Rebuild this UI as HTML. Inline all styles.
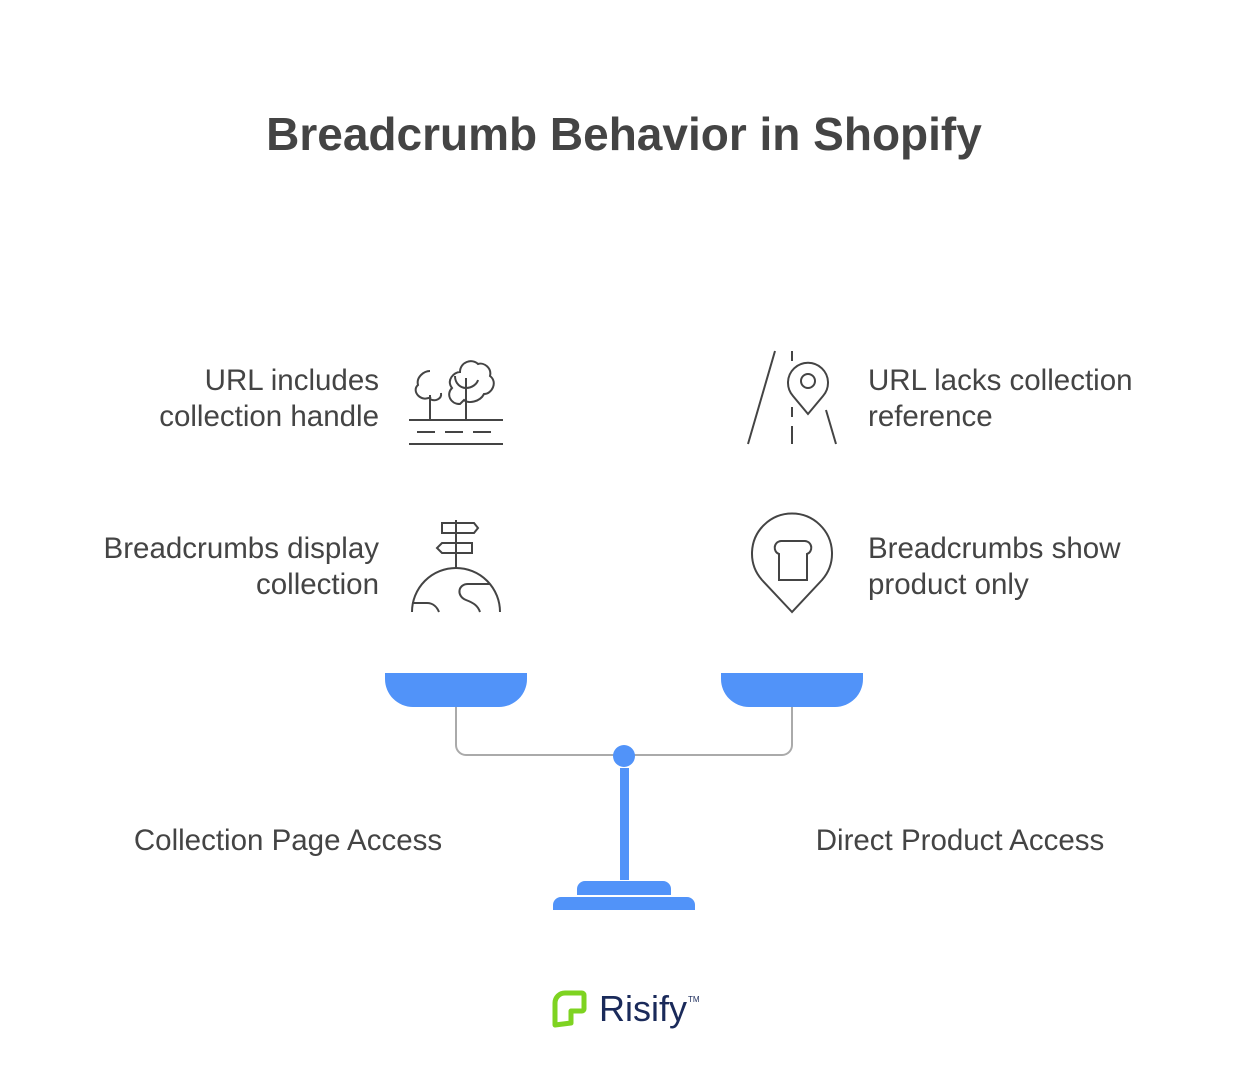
<!DOCTYPE html>
<html><head><meta charset="utf-8"><style>
body{margin:0;width:1248px;height:1069px;background:#fff;overflow:hidden;font-family:"Liberation Sans",sans-serif;color:#444}
svg{position:absolute;left:0;top:0}
</style></head><body>
<svg width="1248" height="1069" viewBox="0 0 1248 1069" xmlns="http://www.w3.org/2000/svg">
<text x="624" y="150" text-anchor="middle" font-size="46" font-weight="bold" fill="#444" font-family="Liberation Sans, sans-serif">Breadcrumb Behavior in Shopify</text>
<g font-size="29.5" fill="#444" font-family="Liberation Sans, sans-serif">
<text x="379" y="390" text-anchor="end">URL includes</text>
<text x="379" y="426" text-anchor="end">collection handle</text>
<text x="379" y="558" text-anchor="end">Breadcrumbs display</text>
<text x="379" y="594" text-anchor="end">collection</text>
<text x="868" y="390">URL lacks collection</text>
<text x="868" y="426">reference</text>
<text x="868" y="558">Breadcrumbs show</text>
<text x="868" y="594">product only</text>
<text x="288" y="850" text-anchor="middle">Collection Page Access</text>
<text x="960" y="850" text-anchor="middle">Direct Product Access</text>
</g>
<g fill="none" stroke="#444" stroke-width="2">
<line x1="409" y1="420" x2="503" y2="420"/><line x1="409" y1="444" x2="503" y2="444"/>
<path d="M417 432h18M445 432h18M473 432h18"/>
<line x1="430" y1="395" x2="430" y2="420"/><line x1="466" y1="378" x2="466" y2="420"/>
<path d="M431 397c-10 6-20-6-13-12 -2-8 6-14 12-14"/><path d="M430 399c5 3 12 0 11-6"/>
<path d="M460 404c-10 0-14-10-8-16-6-8 2-16 8-16 0-10 12-14 18-8 6-2 14 4 12 12 8 6 2 18-6 18-4 8-16 10-20 6z"/>
<path d="M455 376c0 8 6 12 11 12 6 0 11-4 12-8"/>
<line x1="456" y1="520" x2="456" y2="569"/>
<path d="M442 523h32l4 5-4 5h-32z"/><path d="M472 543h-30l-5 5 5 5h30z"/>
<path d="M412 612a44 44 0 0 1 88 0"/>
<path d="M412 603h15c6 0 10 4 12 9"/>
<path d="M490 584h-22c-10 0-12 12-2 16 8 3 12 6 14 12"/>
<line x1="775" y1="351" x2="748" y2="444"/><line x1="826" y1="410" x2="836" y2="444"/>
<path d="M792 351v10M792 407v10M792 426v18"/>
<path d="M808 414l-15-18a20 20 0 1 1 30 0z"/><circle cx="808" cy="381" r="7"/>
<path d="M792 612l-30-32a40 40 0 1 1 60 0z"/>
<path d="M779 580v-26c-6-2-6-12 2-13h24c8 1 8 11 2 13v26z"/>
</g>
<path d="M456 707v38a10 10 0 0 0 10 10h316a10 10 0 0 0 10-10v-38" fill="none" stroke="#aaa" stroke-width="2"/>
<g fill="#5193F9">
<path d="M385 673h142v6a28 28 0 0 1-28 28h-86a28 28 0 0 1-28-28z"/>
<path d="M721 673h142v6a28 28 0 0 1-28 28h-86a28 28 0 0 1-28-28z"/>
<circle cx="624" cy="756" r="11"/>
<rect x="620" y="768" width="9" height="112"/>
<path d="M577 895v-6a8 8 0 0 1 8-8h78a8 8 0 0 1 8 8v6z"/>
<path d="M553 910v-5a8 8 0 0 1 8-8h126a8 8 0 0 1 8 8v5z"/>
</g>
<path d="M555 1025v-22a10 10 0 0 1 10-10h17a2 2 0 0 1 2 2v14a2 2 0 0 1-2 2h-11v12z" fill="none" stroke="#7ed321" stroke-width="5" stroke-linejoin="round"/>
<text x="599" y="1021" font-size="36" fill="#1a2a5a" font-family="Liberation Sans, sans-serif">Risify</text>
<text x="688" y="1002" font-size="8" fill="#1a2a5a" font-family="Liberation Sans, sans-serif">TM</text>
</svg>
</body></html>
